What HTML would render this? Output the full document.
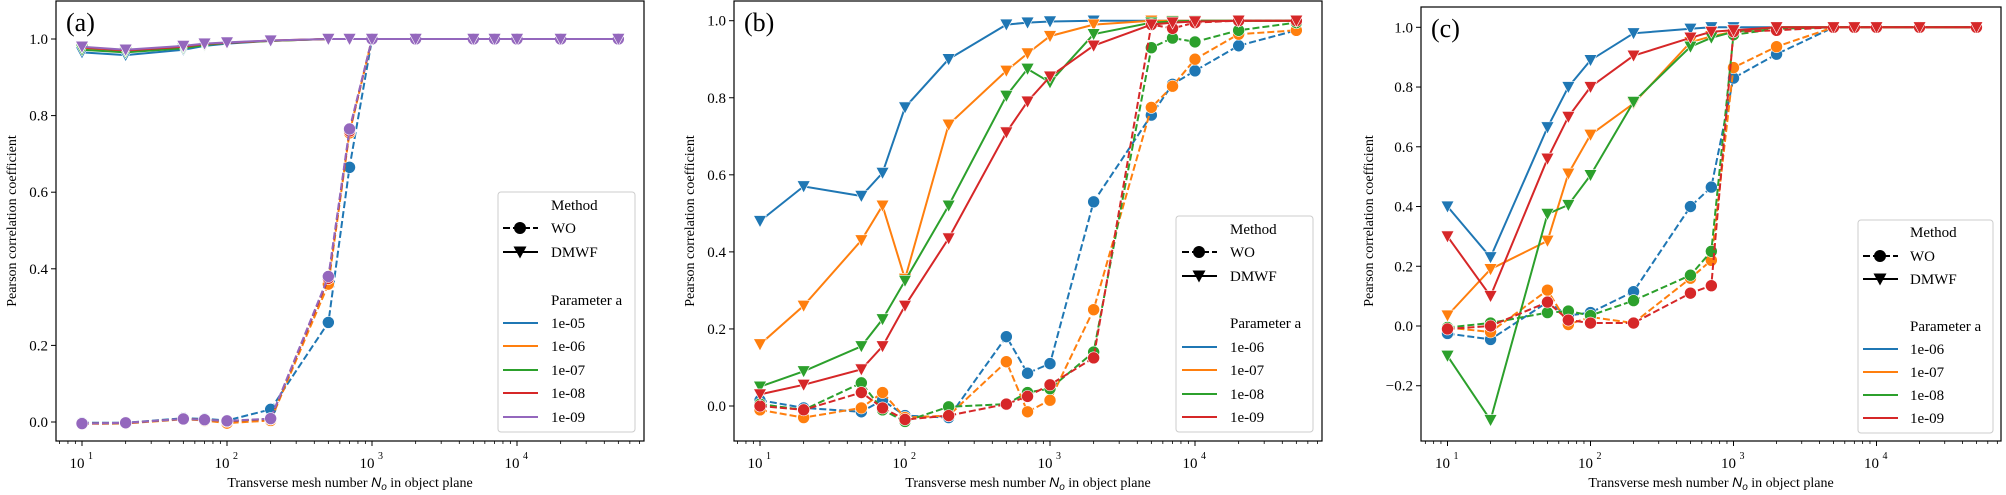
<!DOCTYPE html>
<html><head><meta charset="utf-8"><style>
html,body{margin:0;padding:0;background:#fff}
svg{display:block;font-family:'Liberation Serif','Times New Roman',serif}
text{font-family:'Liberation Serif','Times New Roman',serif;fill:#000}
</style></head><body>
<svg id="s" width="2006" height="495" xmlns="http://www.w3.org/2000/svg" font-family="Liberation Serif, serif"></svg>
<script>
const NS="http://www.w3.org/2000/svg";const S=document.getElementById('s');
function el(t,a,p){const e=document.createElementNS(NS,t);for(const k in a)e.setAttribute(k,a[k]);(p||S).appendChild(e);return e;}
function tx(x,y,s,o){const e=el('text',Object.assign({x:x,y:y,'font-family':'Liberation Serif, serif'},o||{}));e.textContent=s;return e;}
const C=['#1f77b4','#ff7f0e','#2ca02c','#d62728','#9467bd'];
const X=[10,20,50,70,100,200,500,700,1000,2000,5000,7000,10000,20000,50000];
const panels=[
{L:56,R:644,T:1,B:441,x10:82,dec:145,y1:39,y0:422,yt:[0,.2,.4,.6,.8,1],lab:'(a)',ylx:8,
 leg:{x:498,y:192,w:137,h:240,rows:[205,228,252,300,323,346,370,393,417],hx:503,tx:551},
 names:['1e-05','1e-06','1e-07','1e-08','1e-09'],cols:[0,1,2,3,4],
 dm:[[.965,.958,.972,.982,.988,.995,1,1,1,1,1,1,1,1,1],[.975,.968,.978,.985,.99,.995,1,1,1,1,1,1,1,1,1],[.972,.965,.976,.984,.99,.995,1,1,1,1,1,1,1,1,1],[.978,.97,.98,.987,.99,.996,1,1,1,1,1,1,1,1,1],[.98,.972,.982,.988,.991,.996,1,1,1,1,1,1,1,1,1]],
 wo:[[-.002,-.002,.01,.008,.004,.033,.26,.665,1,1,1,1,1,1,1],[-.005,-.004,.007,.004,-.003,.004,.36,.755,1,1,1,1,1,1,1],[-.004,-.003,.008,.006,.002,.008,.375,.76,1,1,1,1,1,1,1],[-.004,-.003,.008,.006,.002,.008,.375,.76,1,1,1,1,1,1,1],[-.004,-.002,.008,.006,.003,.009,.38,.765,1,1,1,1,1,1,1]]},
{L:734,R:1322,T:1,B:441,x10:760,dec:145,y1:20.7,y0:406,yt:[0,.2,.4,.6,.8,1],lab:'(b)',ylx:686,
 leg:{x:1176,y:216,w:137,h:216,rows:[229,252,276,323,347,370,394,417],hx:1182,tx:1230},
 names:['1e-06','1e-07','1e-08','1e-09'],cols:[0,1,2,3],
 dm:[[.48,.57,.545,.605,.775,.90,.99,.995,.998,1,1,1,1,1,1],[.16,.26,.43,.52,.33,.73,.87,.915,.96,.99,1,1,1,1,1],[.05,.09,.155,.225,.325,.52,.805,.875,.84,.965,.995,.998,1,1,1],[.03,.055,.095,.155,.26,.435,.71,.79,.855,.935,.99,.995,.998,1,1]],
 wo:[[.015,-.005,-.015,.015,-.025,-.03,.18,.085,.11,.53,.755,.835,.87,.935,.975],[-.01,-.03,-.005,.035,-.03,-.025,.115,-.015,.015,.25,.775,.83,.9,.965,.975],[.005,-.01,.06,-.01,-.04,-.002,.005,.035,.045,.14,.93,.955,.945,.975,.995],[0,-.01,.035,-.005,-.035,-.025,.005,.025,.055,.125,.99,.98,.995,1,1]]},
{L:1421,R:2001,T:7,B:441,x10:1447.5,dec:143,y1:27.3,y0:326,yt:[-.2,0,.2,.4,.6,.8,1],lab:'(c)',ylx:1365,
 leg:{x:1858,y:220,w:135,h:213,rows:[232,256,279,326,349,372,395,418],hx:1863,tx:1910},
 names:['1e-06','1e-07','1e-08','1e-09'],cols:[0,1,2,3],
 dm:[[.40,.23,.665,.80,.89,.98,.995,1,1,1,1,1,1,1,1],[.035,.19,.285,.51,.64,.745,.95,.97,.985,1,1,1,1,1,1],[-.10,-.315,.375,.405,.505,.75,.935,.965,.985,1,1,1,1,1,1],[.30,.10,.56,.70,.80,.905,.965,.985,.99,1,1,1,1,1,1]],
 wo:[[-.025,-.045,.08,.035,.045,.115,.40,.465,.83,.91,1,1,1,1,1],[-.005,-.02,.12,.005,.03,.01,.16,.22,.865,.935,1,1,1,1,1],[-.005,.01,.045,.05,.035,.085,.17,.25,.975,.995,1,1,1,1,1],[-.01,0,.08,.02,.01,.01,.11,.135,.985,.99,1,1,1,1,1]]}
];
function tri(g,x,y,c){el('path',{d:`M${x-6.5},${y-5.5}L${x+6.5},${y-5.5}L${x},${y+6.5}Z`,fill:c,stroke:'#fff','stroke-width':0.6},g);}
panels.forEach(p=>{
  const fx=v=>p.x10+(Math.log10(v)-1)*p.dec, fy=v=>p.y0+(p.y1-p.y0)*v;
  const clip='c'+p.L;const cp=el('clipPath',{id:clip});el('rect',{x:p.L,y:p.T,width:p.R-p.L,height:p.B-p.T},cp);
  const d=el('g',{'clip-path':`url(#${clip})`});
  p.cols.forEach((ci,i)=>{
    const c=C[ci];
    const pw=p.wo[i].map((v,j)=>fx(X[j]).toFixed(1)+','+fy(v).toFixed(1)).join(' ');
    const pd=p.dm[i].map((v,j)=>fx(X[j]).toFixed(1)+','+fy(v).toFixed(1)).join(' ');
    el('polyline',{points:pw,fill:'none',stroke:c,'stroke-width':2,'stroke-dasharray':'7,3'},d);
    p.wo[i].forEach((v,j)=>el('circle',{cx:fx(X[j]),cy:fy(v),r:6,fill:c,stroke:'#fff','stroke-width':0.6},d));
    el('polyline',{points:pd,fill:'none',stroke:c,'stroke-width':2},d);
    p.dm[i].forEach((v,j)=>tri(d,fx(X[j]),fy(v),c));
  });
  el('rect',{x:p.L,y:p.T,width:p.R-p.L,height:p.B-p.T,fill:'none',stroke:'#000','stroke-width':1.2});
  for(let e=0;e<=4;e++)for(let m=1;m<10;m++){const v=m*Math.pow(10,e);const xx=fx(v);if(xx<p.L||xx>p.R)continue;
    const maj=m===1;el('line',{x1:xx,x2:xx,y1:p.B,y2:p.B+(maj?5:3),stroke:'#000','stroke-width':maj?1:0.8});
    if(maj&&e>=1){tx(xx-5,468,'10',{'font-size':15,'text-anchor':'middle'});tx(xx+6,459,String(e),{'font-size':10});}}
  p.yt.forEach(v=>{const yy=fy(v);el('line',{x1:p.L-5,x2:p.L,y1:yy,y2:yy,stroke:'#000','stroke-width':1});
    tx(p.L-8,yy+5,(v<0?'\u2212':'')+Math.abs(v).toFixed(1),{'font-size':15,'text-anchor':'end'});});
  const cx=(p.L+p.R)/2;
  const xl=tx(cx,487,'',{'font-size':14,'text-anchor':'middle'});
  xl.innerHTML='Transverse mesh number <tspan font-style="italic" font-family="Liberation Sans, sans-serif">N</tspan><tspan font-style="italic" font-size="10" dy="3" font-family="Liberation Sans, sans-serif">o</tspan><tspan dy="-3"> in object plane</tspan>';
  tx(0,0,'Pearson correlation coefficient',{'font-size':14,'text-anchor':'middle',transform:`translate(${p.ylx+8},221) rotate(-90)`});
  tx(p.L+10,p.T+30,p.lab,{'font-size':26});
  const L=p.leg;
  el('rect',{x:L.x,y:L.y,width:L.w,height:L.h,rx:3,fill:'#fff','fill-opacity':0.85,stroke:'#ccc','stroke-width':1});
  const r=L.rows;const hm=L.hx+17;
  tx(L.tx,r[0]+5,'Method',{'font-size':15});
  el('line',{x1:L.hx,x2:L.hx+35,y1:r[1],y2:r[1],stroke:'#000','stroke-width':2,'stroke-dasharray':'7,3'});
  el('circle',{cx:hm,cy:r[1],r:6,fill:'#000'});tx(L.tx,r[1]+5,'WO',{'font-size':15});
  el('line',{x1:L.hx,x2:L.hx+35,y1:r[2],y2:r[2],stroke:'#000','stroke-width':2});
  el('path',{d:`M${hm-6.5},${r[2]-5.5}L${hm+6.5},${r[2]-5.5}L${hm},${r[2]+6.5}Z`,fill:'#000'});tx(L.tx,r[2]+5,'DMWF',{'font-size':15});
  tx(L.tx,r[3]+5,'Parameter a',{'font-size':15});
  p.names.forEach((n,i)=>{const yy=r[4+i];el('line',{x1:L.hx,x2:L.hx+35,y1:yy,y2:yy,stroke:C[p.cols[i]],'stroke-width':2});tx(L.tx,yy+5,n,{'font-size':15});});
});
</script>
</body></html>
